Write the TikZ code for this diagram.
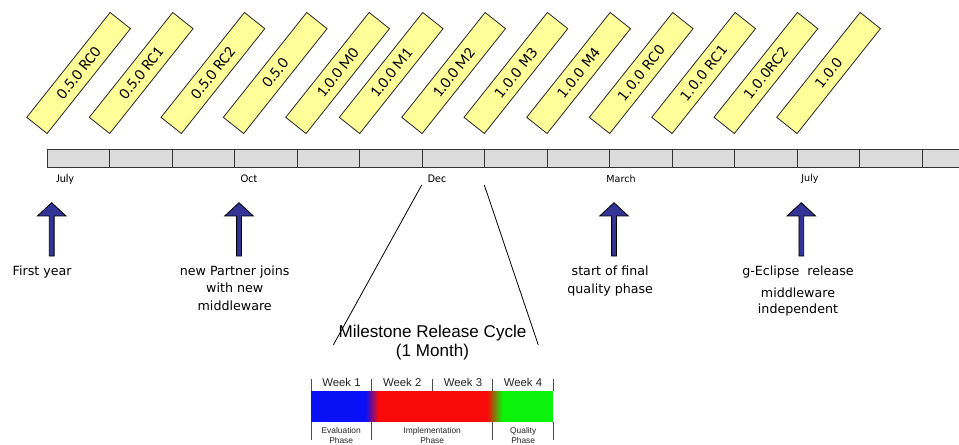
\documentclass[tikz,border=0pt]{standalone}
\usepackage{fontspec}
\setmainfont{DejaVu Sans}
\newfontfamily\calfont{Carlito}
\newfontfamily\arifont{Liberation Sans}
\definecolor{relyellow}{HTML}{FFFF99}
\definecolor{cellgray}{HTML}{DCDCDC}
\definecolor{arrowblue}{RGB}{52,52,150}
\definecolor{barblue}{HTML}{0A10F5}
\definecolor{barred}{HTML}{F90A0A}
\definecolor{bargreen}{HTML}{0BF20B}
\begin{document}
\begin{tikzpicture}[x=0.75pt,y=-0.75pt,
  relbox/.style={draw=black!85,fill=relyellow,line width=0.6pt,minimum width=100.5pt,minimum height=19.5pt,inner sep=0pt,rotate=51.5},
  relcal/.style={relbox,font=\calfont\fontsize{12}{14}\selectfont},
  reldv/.style={relbox,font=\fontsize{10.3}{12}\selectfont},
  cell/.style={draw=black!80,fill=cellgray,line width=0.7pt,minimum width=46.875pt,minimum height=13.5pt,inner sep=0pt},
  monthcal/.style={inner sep=0pt,font=\calfont\fontsize{8.8}{10}\selectfont},
  monthdv/.style={inner sep=0pt,font=\fontsize{7.2}{9}\selectfont},
  uparrow/.style={fill=arrowblue,draw=black,line width=0.6pt,line join=miter},
  evlabel/.style={inner sep=0pt,anchor=north,align=center,font=\fontsize{9.5}{13.3}\selectfont},
  weeklabel/.style={inner sep=0pt,text=black!85,font=\arifont\fontsize{8.5}{10}\selectfont},
  phaselabel/.style={inner sep=0pt,align=center,text=black!85,font=\arifont\fontsize{6.3}{7}\selectfont},
  tick/.style={draw=black!70,line width=0.5pt},
  cycleline/.style={draw=black,line width=0.6pt}
]
\clip (0,0) rectangle (959,445);
\fill[white] (0,0) rectangle (959,445);

% release boxes
\node[relcal] (r1) at (78.6,73) {0.5.0 RC0};
\node[relcal] (r2) at (141.2,73) {0.5.0 RC1};
\node[relcal] (r3) at (212.9,73) {0.5.0 RC2};
\node[relcal] (r4) at (275.2,73) {0.5.0};
\node[relcal] (r5) at (337.6,73) {1.0.0 M0};
\node[relcal] (r6) at (391.2,73) {1.0.0 M1};
\node[relcal] (r7) at (453.6,73) {1.0.0 M2};
\node[reldv] (r8) at (515.9,73) {1.0.0 M3};
\node[reldv] (r9) at (578.6,73) {1.0.0 M4};
\node[reldv] (r10) at (641.2,73) {1.0.0 RC0};
\node[reldv] (r11) at (703.6,73) {1.0.0 RC1};
\node[reldv] (r12) at (765.9,73) {1.0.0RC2};
\node[reldv] (r13) at (828.6,73) {1.0.0};

% timeline cells
\foreach \i in {0,...,14}{
  \node[cell] (c\i) at ({47.3+31.25+62.5*\i},158) {};
}

% month labels
\node[monthcal] (m1) at (65,179) {July};
\node[monthcal] (m2) at (249,179) {Oct};
\node[monthcal] (m3) at (437,179) {Dec};
\node[monthdv] (m4) at (621,179) {March};
\node[monthdv] (m5) at (810,179) {July};

% event arrows
\foreach \ax in {51.7,239,614,801.3}{
  \draw[uparrow] (\ax-2.4,256) -- (\ax-2.4,216) -- (\ax-14.3,216) -- (\ax,202.7)
     -- (\ax+14.3,216) -- (\ax+2.4,216) -- (\ax+2.4,256) -- cycle;
}

% event labels
\node[evlabel] (e1) at (42.2,265.5) {First year};
\node[evlabel,font=\fontsize{9.5}{13.2}\selectfont] (e2) at (234.7,265.5) {new Partner joins\\with new\\middleware};
\node[evlabel,font=\fontsize{9.5}{13.5}\selectfont] (e3) at (610.2,265.5) {start of final\\quality phase};
\node[evlabel,font=\fontsize{9.5}{12.5}\selectfont] (e4) at (798,265.5) {g-Eclipse\ \ release\\[3.8pt]middleware\\independent};

% zoom lines
\coordinate (zl1) at (421.7,185);
\coordinate (zl2) at (333.3,345);
\coordinate (zr1) at (484.3,185);
\coordinate (zr2) at (538.3,345);
\draw[cycleline] (zl1) -- (zl2);
\draw[cycleline] (zr1) -- (zr2);

% milestone title
\node[inner sep=0pt,align=center,font=\arifont\fontsize{12.8}{14.3}\selectfont] (title) at (432.5,342.5) {Milestone Release Cycle\\(1 Month)};

% colour bar
\fill[barblue] (311,391) rectangle (366,421.7);
\shade[left color=barblue,right color=barred] (365.5,391) rectangle (378.5,421.7);
\fill[barred] (378,391) rectangle (487.5,421.7);
\shade[left color=barred,right color=bargreen] (487,391) rectangle (502.5,421.7);
\fill[bargreen] (502,391) rectangle (553.3,421.7);

% ticks
\foreach \tx in {311,371.7,432.7,492.7,553.3}{
  \draw[tick] (\tx,379) -- (\tx,391);
}
\foreach \tx in {311,371.7,492.7,553.3}{
  \draw[tick] (\tx,421.7) -- (\tx,440);
}

% week labels
\node[weeklabel] (w1) at (341.5,382.5) {Week 1};
\node[weeklabel] (w2) at (402.2,382.5) {Week 2};
\node[weeklabel] (w3) at (463,382.5) {Week 3};
\node[weeklabel] (w4) at (523,382.5) {Week 4};

% phase labels
\node[phaselabel] (p1) at (341.2,435.5) {Evaluation\\Phase};
\node[phaselabel] (p2) at (432.2,435.5) {Implementation\\Phase};
\node[phaselabel] (p3) at (523.2,435.5) {Quality\\Phase};
\end{tikzpicture}
\end{document}
